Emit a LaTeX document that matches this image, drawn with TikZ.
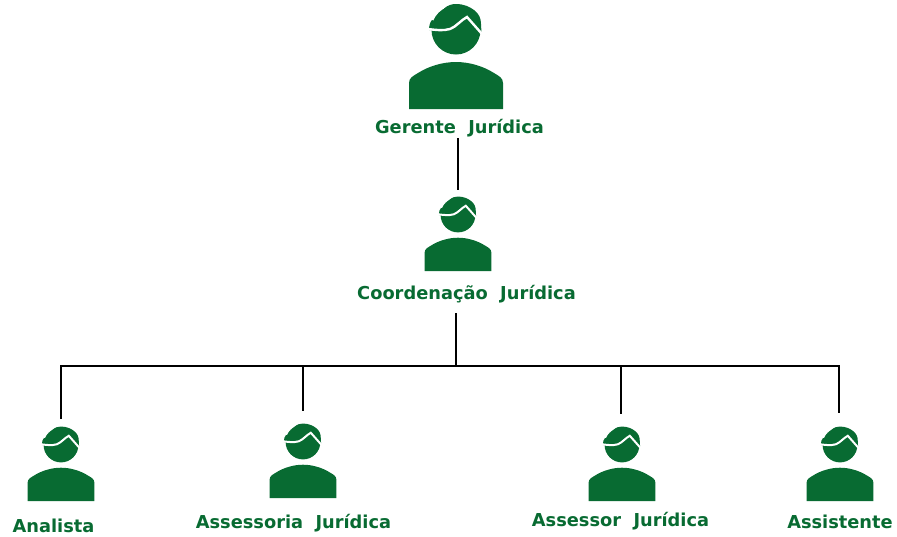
\documentclass[tikz,border=0pt]{standalone}
\usepackage{fontspec}
\setmainfont[WordSpace=2]{DejaVu Sans}
\definecolor{juridico}{HTML}{086B32}
\tikzset{
  person label/.style={font=\bfseries\fontsize{17.8}{20}\selectfont,text=juridico,inner sep=0pt},
  person/.pic={
    \fill[juridico] (0,0) circle (24.5);
    \fill[juridico] (-27,0) .. controls (-27,-4) and (-26,-8) .. (-24,-10) -- (0,0) -- cycle;
    \fill[juridico] (-12,-21.4) .. controls (-8,-25) and (-4,-26) .. (0,-26)
      .. controls (8,-26) and (14,-23) .. (18,-20)
      .. controls (23,-16) and (25,-12) .. (25,-6) -- (25.5,3) -- (0,0) -- cycle;
    \fill[juridico] (-47,79) -- (-47,53) .. controls (-47,48) and (-43,46) .. (-38,43)
      .. controls (-27,36) and (-13,32) .. (0,32) .. controls (13,32) and (27,36) .. (38,43)
      .. controls (43,46) and (47,48) .. (47,53) -- (47,79) -- cycle;
    \draw[white,line width=#1] (-28,-1) .. controls (-20,0) and (-13,1) .. (-6,-1)
      .. controls (0,-3) and (5,-10) .. (11,-13) -- (26,4);
  }
}
\begin{document}
\begin{tikzpicture}[x=1pt,y=-1pt,thick]
\useasboundingbox (0,0) rectangle (897,536);

% people
\pic (gerente) at (456,30) {person=2.4pt};
\pic[scale=.71] (coord) at (458,215) {person=2pt};
\pic[scale=.71] (analista) at (61,445) {person=2pt};
\pic[scale=.71] (assessoria) at (303,442) {person=2pt};
\pic[scale=.71] (assessor) at (622,445) {person=2pt};
\pic[scale=.71] (assistente) at (840,445) {person=2pt};

\node[person label] (l1) at (459.5,128.5) {Gerente Jurídica};
\node[person label] (l2) at (466.5,294.5) {Coordenação Jurídica};
\node[person label] (l3) at (53.5,525.5) {Analista};
\node[person label] (l4) at (293.5,523.5) {Assessoria Jurídica};
\node[person label] (l5) at (620.5,521.5) {Assessor Jurídica};
\node[person label] (l6) at (840,521.5) {Assistente};

% line ends
\coordinate (a1) at (458,138);
\coordinate (a2) at (458,190);
\coordinate (b1) at (456,313);
\coordinate (b2) at (456,366);
\coordinate (c1) at (61,366);
\coordinate (c2) at (303,366);
\coordinate (c3) at (621,366);
\coordinate (c4) at (839,366);
\coordinate (d1) at (61,419);
\coordinate (d2) at (303,411);
\coordinate (d3) at (621,414);
\coordinate (d4) at (839,413);

\draw[line width=1.8pt] (a1) -- (a2);
\draw[line width=1.8pt] (b1) -- (b2);
\draw[line width=1.8pt] (d1) -- (c1) -- (c4) -- (d4);
\draw[line width=1.8pt] (c2) -- (d2);
\draw[line width=1.8pt] (c3) -- (d3);

\end{tikzpicture}
\end{document}
